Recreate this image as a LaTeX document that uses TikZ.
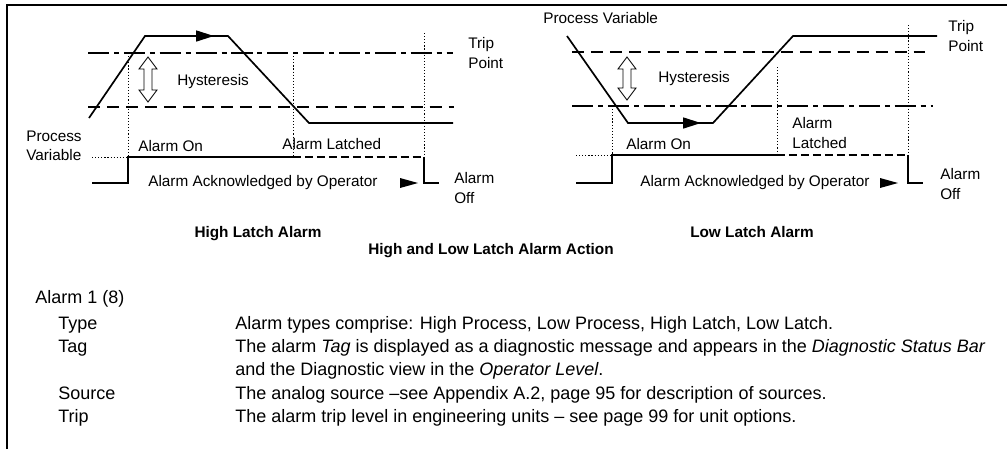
\documentclass[tikz,border=0pt]{standalone}
\usepackage{fontspec}
\setmainfont{Liberation Sans}
\usetikzlibrary{arrows.meta}

\begin{document}
\begin{tikzpicture}[x=0.025cm, y=-0.025cm,
    pvline/.style={line width=1.2pt, line join=miter},
    tripline/.style={line width=0.9pt, dash pattern=on 15pt off 3.5pt on 3.5pt off 3.5pt},
    hystline/.style={line width=0.9pt, dash pattern=on 8.5pt off 5pt},
    dotline/.style={line width=0.6pt, dash pattern=on 0.8pt off 1.4pt},
    sigline/.style={line width=1.2pt},
    latchline/.style={line width=1pt, dash pattern=on 5.7pt off 2.8pt},
    flow/.style={-{Triangle[length=12.8pt, width=7.8pt]}, line width=1.2pt},
    lbl/.style={font=\fontsize{10.9}{13.8}\selectfont, inner sep=0pt, align=left, anchor=west},
    capt/.style={font=\fontsize{10.9}{13}\selectfont\bfseries, inner sep=0pt, anchor=base},
    body/.style={font=\fontsize{12.8}{15}\selectfont, inner sep=0pt, anchor=base west},
  ]
    \useasboundingbox (0,0) rectangle (1007,449);

    % ─── Page frame ───
    \draw[line width=1pt] (7,449) -- (7,5) -- (1007,5);

    % ─── HIGH LATCH ───
    \draw[tripline] (88,53) -- (453,53);
    \draw[hystline] (88,107) -- (454,107);
    \draw[pvline] (89,118) -- (145,36) -- (228,36) -- (309,123) -- (453,123);
    \draw[flow] (180,36) -- (214,36);
    \draw[dotline] (128,53) -- (128,157);
    \draw[dotline] (293,53) -- (293,157);
    \draw[dotline] (424,33) -- (424,157);
    \draw[dotline] (92,157) -- (128,157);
    \draw[sigline] (92,183) -- (128,183) -- (128,157) -- (293,157);
    \draw[latchline] (293,157) -- (424,157);
    \draw[sigline] (424,157) -- (424,183) -- (439,183);

    \node[lbl] (hiHyst) at (177,82) {Hysteresis};
    \node[lbl] (hiTrip) at (468,53) {Trip\\Point};
    \node[lbl] (hiPV) at (26,146) {Process\\Variable};
    \node[lbl] (hiOn) at (138,146) {Alarm On};
    \node[lbl] (hiLatch) at (282,144) {Alarm Latched};
    \node[lbl] (hiAck) at (148,183) {Alarm Acknowledged by Operator};
    \node[lbl] (hiOff) at (454,188) {Alarm\\Off};

    % ─── LOW LATCH ───
    \draw[hystline] (572,52) -- (925,52);
    \draw[tripline] (572,106) -- (933,106);
    \draw[pvline] (567,36) -- (628,123) -- (713,123) -- (793,36) -- (937,36);
    \draw[flow] (665,123) -- (701,123);
    \draw[dotline] (612,106) -- (612,155);
    \draw[dotline] (777,67) -- (777,155);
    \draw[dotline] (908,25) -- (908,155);
    \draw[dotline] (576,155) -- (612,155);
    \draw[sigline] (576,183) -- (612,183) -- (612,155) -- (777,155);
    \draw[latchline] (777,155) -- (908,155);
    \draw[sigline] (908,155) -- (908,183) -- (923,183);

    \node[lbl] (loPV) at (543,18) {Process Variable};
    \node[lbl] (loHyst) at (658,79) {Hysteresis};
    \node[lbl] (loTrip) at (948,36) {Trip\\Point};
    \node[lbl] (loLatch) at (792,133) {Alarm\\Latched};
    \node[lbl] (loOn) at (626,144) {Alarm On};
    \node[lbl] (loAck) at (640,183) {Alarm Acknowledged by Operator};
    \node[lbl] (loOff) at (940,184) {Alarm\\Off};

    % ─── Hysteresis arrows and acknowledge heads ───
    \foreach \hx/\ht/\hb in {148/57/102, 627/57/100}{
      \draw[line width=0.6pt, fill=white] (\hx,\ht) -- ({\hx+9},{\ht+12}) -- ({\hx+4},{\ht+12})
        -- ({\hx+4},{\hb-12}) -- ({\hx+9},{\hb-12}) -- (\hx,\hb) -- ({\hx-9},{\hb-12})
        -- ({\hx-4},{\hb-12}) -- ({\hx-4},{\ht+12}) -- ({\hx-9},{\ht+12}) -- cycle;
    }
    \foreach \ax in {400, 880}{
      \fill ({\ax},178) -- ({\ax+18},183) -- ({\ax},188) -- cycle;
    }

    % ─── Captions ───
    \node[capt] (hiCap) at (258,237) {High Latch Alarm};
    \node[capt] (loCap) at (752,237) {Low Latch Alarm};
    \node[capt] (mainCap) at (491,254) {High and Low Latch Alarm Action};

    % ─── Parameter text ───
    \node[body] (almHead) at (35,303) {Alarm 1 (8)};
    \foreach \y/\k in {329/Type, 352/Tag, 399/Source, 422/Trip}{
      \node[body] at (58,\y) {\k};
    }
    \node[body] (typeTxt) at (235,329) {Alarm types comprise: High Process, Low Process, High Latch, Low Latch.};
    \node[body] (tagTxt) at (235,352) {The alarm \textit{Tag} is displayed as a diagnostic message and appears in the \textit{Diagnostic Status Bar}};
    \node[body] (tagTxt2) at (235,375) {and the Diagnostic view in the \textit{Operator Level}.};
    \node[body] (srcTxt) at (235,399) {The analog source \textendash see Appendix A.2, page 95 for description of sources.};
    \node[body] (tripTxt) at (235,422) {The alarm trip level in engineering units \textendash{} see page 99 for unit options.};
  \end{tikzpicture}
\end{document}
